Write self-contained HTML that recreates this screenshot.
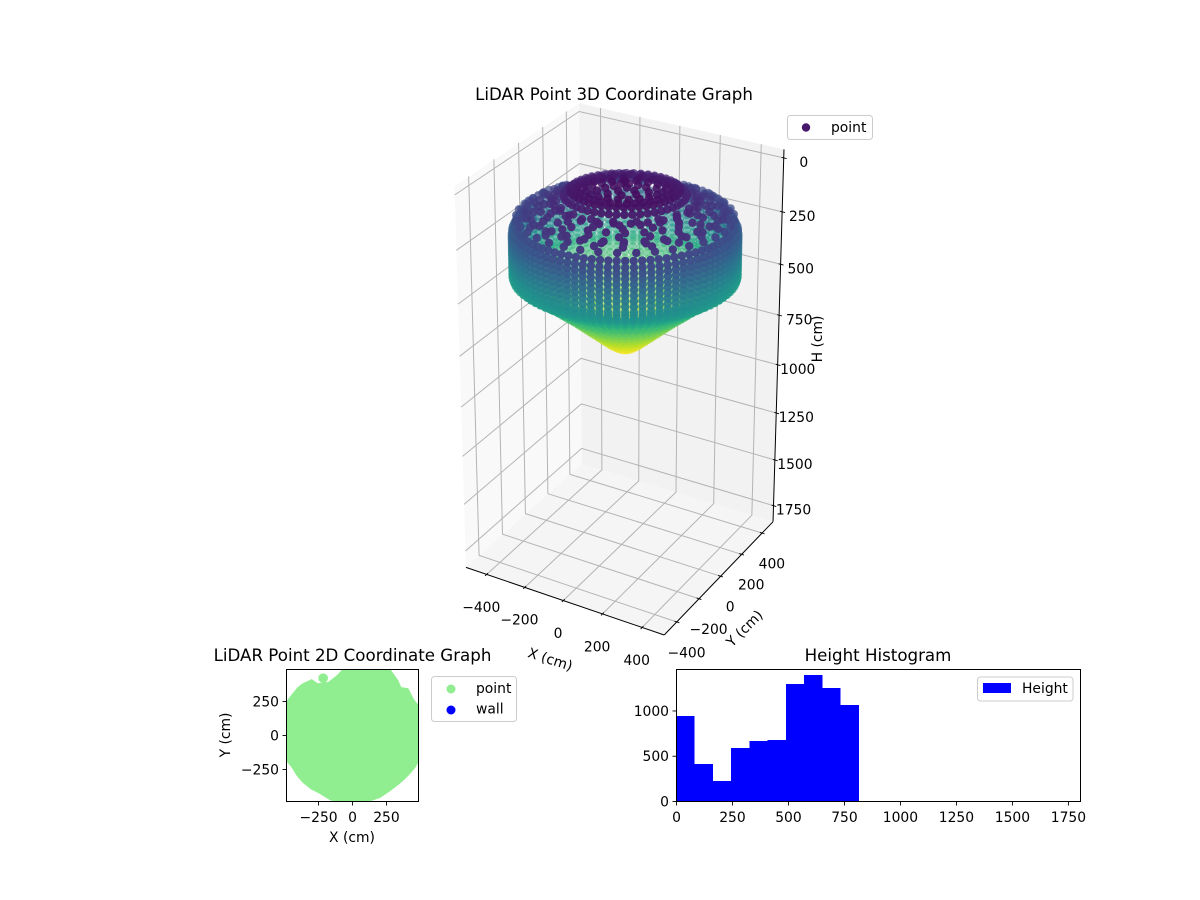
<!DOCTYPE html>
<html>
<head>
<meta charset="utf-8">
<title>LiDAR Point Graphs</title>
<style>
html,body{margin:0;padding:0;background:#fff;}
svg{display:block;font-family:"DejaVu Sans","Liberation Sans",sans-serif;fill:#000;}
</style>
</head>
<body>
<svg id="fig" xmlns="http://www.w3.org/2000/svg" width="1200" height="900" viewBox="0 0 1200 900">
  <rect x="0" y="0" width="1200" height="900" fill="#fff"/>
  <g id="panes3d"></g>
  <g id="grid3d" fill="none"></g>
  <g id="axes3d"></g>
  <g id="points3d"></g>
  <text x="614" y="100" font-size="16.67" text-anchor="middle">LiDAR Point 3D Coordinate Graph</text>
  <text transform="translate(822,339) rotate(-90)" font-size="13.89" text-anchor="middle">H (cm)</text>
  <text transform="translate(550,660) rotate(18)" font-size="13.89" text-anchor="middle" dominant-baseline="middle">X (cm)</text>
  <text transform="translate(745,629) rotate(-45)" font-size="13.89" text-anchor="middle" dominant-baseline="middle">Y (cm)</text>
  <g>
    <rect x="787.5" y="115.5" width="85" height="24" rx="3" fill="#fff" stroke="#ccc" stroke-width="1"/>
    <circle cx="806" cy="127.5" r="4.2" fill="#48186a"/>
    <text x="831" y="132" font-size="13.89">point</text>
  </g>

  <g id="panel2d"></g>
  <text x="352.5" y="661" font-size="16.67" text-anchor="middle">LiDAR Point 2D Coordinate Graph</text>
  <text x="352" y="842" font-size="13.89" text-anchor="middle">X (cm)</text>
  <text transform="translate(230,735) rotate(-90)" font-size="13.89" text-anchor="middle">Y (cm)</text>
  <g>
    <rect x="431.5" y="676.5" width="85" height="45" rx="3" fill="#fff" stroke="#ccc" stroke-width="1"/>
    <circle cx="451" cy="689" r="4.5" fill="#90ee90"/>
    <text x="476" y="693" font-size="13.89">point</text>
    <circle cx="451" cy="710" r="4.5" fill="#0000ff"/>
    <text x="476" y="713.5" font-size="13.89">wall</text>
  </g>

  <g id="panelHist"></g>
  <text x="878" y="661" font-size="16.67" text-anchor="middle">Height Histogram</text>
  <g>
    <rect x="977.5" y="677" width="95.5" height="24" rx="3" fill="#fff" stroke="#ccc" stroke-width="1"/>
    <rect x="983" y="683" width="28" height="10" fill="#0000ff"/>
    <text x="1022" y="693" font-size="13.89">Height</text>
  </g>
</svg>
<script>
// ---------- chart data ----------
const xTicks3d = [-400, -200, 0, 200, 400];
const yTicks3d = [-400, -200, 0, 200, 400];
const hTicks3d = [0, 250, 500, 750, 1000, 1250, 1500, 1750];
const xLimits3d = [-510, 510];
const yLimits3d = [-510, 510];
const hLimits3d = [-39, 1839];

// surface-of-revolution rings (radius cm, height cm, points in ring, start angle deg)
const ringRadius = [20,60,100,140,175,205,235,262, 295,310,320,345,370,395,420,430,445,465, 470,482,485,485,485,485,485,485,485,485,485,480,460,430,400,370,340,310,280,250,220,190,160,130,100,70,40,15];
const ringHeight = [30,32,35,40,48,55,62,85, 105,108,112,120,128,138,150,155,165,182, 215,240,265,290,315,340,365,390,415,440,455,470,488,505,525,545,565,590,612,635,660,685,710,735,760,785,805,815];
const ringCount = [3,6,9,14,24,36,46,50, 19,27,23,17,29,19,31,29,23,37, 84,84,84,84,84,84,84,84,84,84,84,84,84,84,72,72,72,72,64,60,54,48,40,36,30,24,16,8];
const ringStart = [0,7,3,11,5,2,9,4, 6,11,14,23,2,31,9,26,17,4, 0,0,0,0,0,0,0,0,0,0,0,0,0,0,0,0,0,0,0,0,0,0,0,0,0,0,0,0];
const heightColorMax = 815;
const roomTilt = 60;
const roomCenter = [15, 7];
const viridisStops = ['#440154','#482475','#414487','#355f8d','#2a788e','#21918c','#22a884','#44bf70','#7ad151','#bddf26','#fde725'];

const xTicks2d = [-250, 0, 250];
const yTicks2d = [-250, 0, 250];
const limit2d = [-486, 486];
const footprintX = [-93,-56,263,337,359,411,448,470,493,515,493,463,426,382,330,270,204,141,78,-93,-170,-241,-307,-367,-411,-448,-507,-515,-507,-470,-441,-404,-367,-300,-256,-181,-115];
const footprintY = [467,511,511,407,356,348,274,244,222,0,-185,-237,-281,-326,-370,-415,-459,-481,-504,-504,-474,-430,-396,-348,-296,-237,-163,0,222,274,311,356,385,415,385,393,444];
const outlierPoint = [-216, 422];

const histEdges = [0,81.4,162.8,244.2,325.6,407,488.4,569.8,651.2,732.6,814];
const histCounts = [943,412,225,589,667,678,1296,1396,1252,1064];
const histXTicks = [0,250,500,750,1000,1250,1500,1750];
const histYTicks = [0,500,1000];
const histXLimits = [0,1804];
const histYLimits = [0,1458];

// ---------- helpers ----------
const NS = 'http://www.w3.org/2000/svg';
function make(tag, parent, props) {
  const el = document.createElementNS(NS, tag);
  for (const k in props) el.setAttribute(k, props[k]);
  parent.appendChild(el);
  return el;
}
function fmt(v) { return String(v).replace('-', '\u2212'); }

// ---------- 3D projection ----------
const halfBoxZ = 0.95;
function aOf(x) { return (x - xLimits3d[0]) / (xLimits3d[1] - xLimits3d[0]) - 0.5; }
function bOf(y) { return (y - yLimits3d[0]) / (yLimits3d[1] - yLimits3d[0]) - 0.5; }
function cOf(h) { return halfBoxZ * (1 - 2 * (h - hLimits3d[0]) / (hLimits3d[1] - hLimits3d[0])); }
function project(x, y, h) {
  const a = aOf(x), b = bOf(y), c = cOf(h);
  const X = 0.866 * a + 0.5 * b;
  const Y = -0.25 * a + 0.433 * b + 0.866 * c;
  const N = 0.433 * a - 0.75 * b + 0.5 * c;
  return [466 + (X / (13.5 - N) + 0.04943) * 3141, 635 - (Y / (9 - N) + 0.13105) * 2055, N];
}
function poly(pts) { return pts.map(p => p[0].toFixed(2) + ',' + p[1].toFixed(2)).join(' '); }

const [x0, x1] = xLimits3d, [y0, y1] = yLimits3d, [h0, h1] = hLimits3d;
const panes = document.getElementById('panes3d');
const leftPane = make('polygon', panes, {points: poly([project(x0,y0,h0),project(x0,y1,h0),project(x0,y1,h1),project(x0,y0,h1)]), fill:'#f9f9f9'});


const backPane = make('polygon', panes, {points: poly([project(x0,y1,h0),project(x1,y1,h0),project(x1,y1,h1),project(x0,y1,h1)]), fill:'#f2f2f2'});


const floorPane = make('polygon', panes, {points: poly([project(x0,y0,h1),project(x1,y0,h1),project(x1,y1,h1),project(x0,y1,h1)]), fill:'#f5f5f5'});



const grid = document.getElementById('grid3d');
const gridStyle = {stroke:'#b4b4b4', 'stroke-width':'1', fill:'none'};
xTicks3d.forEach(v => {
  const g = make('polyline', grid, Object.assign({points: poly([project(v,y0,h1),project(v,y1,h1),project(v,y1,h0)])}, gridStyle));
  
  
});
yTicks3d.forEach(v => {
  const g = make('polyline', grid, Object.assign({points: poly([project(x1,v,h1),project(x0,v,h1),project(x0,v,h0)])}, gridStyle));
  
  
});
hTicks3d.forEach(v => {
  const g = make('polyline', grid, Object.assign({points: poly([project(x0,y0,v),project(x0,y1,v),project(x1,y1,v)])}, gridStyle));
  
  
});

const axes3d = document.getElementById('axes3d');
function axisLine(p, q, w) {
  return make('line', axes3d, {x1:p[0], y1:p[1], x2:q[0], y2:q[1], stroke:'#000', 'stroke-width':w});
}
const xLine = axisLine(project(x0,y0,h1), project(x1,y0,h1), 1);


const yLine = axisLine(project(x1,y0,h1), project(x1,y1,h1), 1);


const hLine = axisLine(project(x1,y1,h1), project(x1,y1,h0), 1);



xTicks3d.forEach(v => {
  const t = axisLine(project(v,y0+10,h1), project(v,y0-14,h1), 0.9);
  
  
  const p = project(v,y0,h1);
  const l = make('text', axes3d, {x:p[0]-5.5, y:p[1]+37.5, 'font-size':'13.89', 'text-anchor':'middle'});
  l.textContent = fmt(v);
  
  
});
yTicks3d.forEach(v => {
  const t = axisLine(project(x1-10,v,h1), project(x1+14,v,h1), 0.9);
  
  
  const p = project(x1,v,h1);
  const l = make('text', axes3d, {x:p[0]+10, y:p[1]+35.5, 'font-size':'13.89', 'text-anchor':'middle'});
  l.textContent = fmt(v);
  
  
});
hTicks3d.forEach(v => {
  const t = axisLine(project(x1-10,y1,v), project(x1+14,y1,v), 0.9);
  
  
  const p = project(x1,y1,v);
  const l = make('text', axes3d, {x:p[0]+20, y:p[1]+9, 'font-size':'13.89', 'text-anchor':'middle'});
  l.textContent = fmt(v);
  
  
});

// ---------- point cloud ----------
function viridis(t) {
  t = Math.max(0, Math.min(1, t)) * (viridisStops.length - 1);
  const i = Math.min(viridisStops.length - 2, Math.floor(t)), f = t - i;
  const c = s => [1,3,5].map(k => parseInt(s.substr(k,2),16));
  const A = c(viridisStops[i]), B = c(viridisStops[i+1]);
  return 'rgb(' + A.map((v,k) => Math.round(v + (B[k]-v)*f)).join(',') + ')';
}
const cloud = [];
ringRadius.forEach((r, i) => {
  for (let k = 0; k < ringCount[i]; k++) {
    const ang = (ringStart[i] + 360 * k / ringCount[i]) * Math.PI / 180;
    const dx = r * Math.cos(ang), dy = r * Math.sin(ang);
    // toward-viewer component tips the measured room slightly
    const toward = (0.5 * dx - 0.866 * dy) / 495;
    const h = ringHeight[i] - roomTilt * toward;
    const p = project(roomCenter[0] + dx, roomCenter[1] + dy, h);
    cloud.push({x:p[0], y:p[1], n:p[2], h:h});
  }
});
const nMin = Math.min.apply(null, cloud.map(p => p.n));
const nMax = Math.max.apply(null, cloud.map(p => p.n));
cloud.sort((p, q) => p.n - q.n);
const cloudGroup = document.getElementById('points3d');
cloud.forEach(p => {
  const alpha = 0.55 + 0.45 * (p.n - nMin) / (nMax - nMin);
  const m = make('circle', cloudGroup, {cx:p.x.toFixed(1), cy:p.y.toFixed(1), r:'4.2', fill:viridis(p.h / heightColorMax), 'fill-opacity':alpha.toFixed(2)});
  
  
});

// ---------- 2D panel ----------
const panel2d = document.getElementById('panel2d');
const box2d = {l:286.5, r:418.5, t:669.5, b:801.5};
function sx2d(v) { return box2d.l + (v - limit2d[0]) / (limit2d[1] - limit2d[0]) * (box2d.r - box2d.l); }
function sy2d(v) { return box2d.b - (v - limit2d[0]) / (limit2d[1] - limit2d[0]) * (box2d.b - box2d.t); }
const defs = make('defs', panel2d, {});
const clip2d = make('clipPath', defs, {id:'clip2d'});
make('rect', clip2d, {x:box2d.l, y:box2d.t, width:box2d.r-box2d.l, height:box2d.b-box2d.t});
const foot = make('polygon', panel2d, {points: footprintX.map((v,i) => sx2d(v) + ',' + sy2d(footprintY[i])).join(' '), fill:'#90ee90', 'clip-path':'url(#clip2d)'});


const outlier = make('circle', panel2d, {cx:sx2d(outlierPoint[0]), cy:sy2d(outlierPoint[1]), r:'4.8', fill:'#90ee90'});


const frame2d = make('rect', panel2d, {x:box2d.l, y:box2d.t, width:box2d.r-box2d.l, height:box2d.b-box2d.t, fill:'none', stroke:'#000', 'stroke-width':'1'});


xTicks2d.forEach(v => {
  const t = make('line', panel2d, {x1:sx2d(v), x2:sx2d(v), y1:box2d.b, y2:box2d.b+4, stroke:'#000', 'stroke-width':'0.9'});
  
  
  const l = make('text', panel2d, {x:sx2d(v), y:822, 'font-size':'13.89', 'text-anchor':'middle'});
  l.textContent = fmt(v);
  
  
});
yTicks2d.forEach(v => {
  const t = make('line', panel2d, {x1:box2d.l-4, x2:box2d.l, y1:sy2d(v), y2:sy2d(v), stroke:'#000', 'stroke-width':'0.9'});
  
  
  const l = make('text', panel2d, {x:box2d.l-7.5, y:sy2d(v)+5, 'font-size':'13.89', 'text-anchor':'end'});
  l.textContent = fmt(v);
  
  
});

// ---------- histogram ----------
const panelHist = document.getElementById('panelHist');
const boxH = {l:676.5, r:1080.5, t:669.5, b:801.5};
function sxH(v) { return boxH.l + (v - histXLimits[0]) / (histXLimits[1] - histXLimits[0]) * (boxH.r - boxH.l); }
function syH(v) { return boxH.b - (v - histYLimits[0]) / (histYLimits[1] - histYLimits[0]) * (boxH.b - boxH.t); }
histCounts.forEach((c, i) => {
  const b = make('rect', panelHist, {x:sxH(histEdges[i]), y:syH(c), width:sxH(histEdges[i+1])-sxH(histEdges[i]), height:syH(0)-syH(c), fill:'#0000ff', 'shape-rendering':'crispEdges'});
  
  
});
const frameH = make('rect', panelHist, {x:boxH.l, y:boxH.t, width:boxH.r-boxH.l, height:boxH.b-boxH.t, fill:'none', stroke:'#000', 'stroke-width':'1'});


histXTicks.forEach(v => {
  const t = make('line', panelHist, {x1:sxH(v), x2:sxH(v), y1:boxH.b, y2:boxH.b+4, stroke:'#000', 'stroke-width':'0.9'});
  
  
  const l = make('text', panelHist, {x:sxH(v), y:822, 'font-size':'13.89', 'text-anchor':'middle'});
  l.textContent = fmt(v);
  
  
});
histYTicks.forEach(v => {
  const t = make('line', panelHist, {x1:boxH.l-4, x2:boxH.l, y1:syH(v), y2:syH(v), stroke:'#000', 'stroke-width':'0.9'});
  
  
  const l = make('text', panelHist, {x:boxH.l-7.5, y:syH(v)+5, 'font-size':'13.89', 'text-anchor':'end'});
  l.textContent = fmt(v);
  
  
});
</script>
</body>
</html>
